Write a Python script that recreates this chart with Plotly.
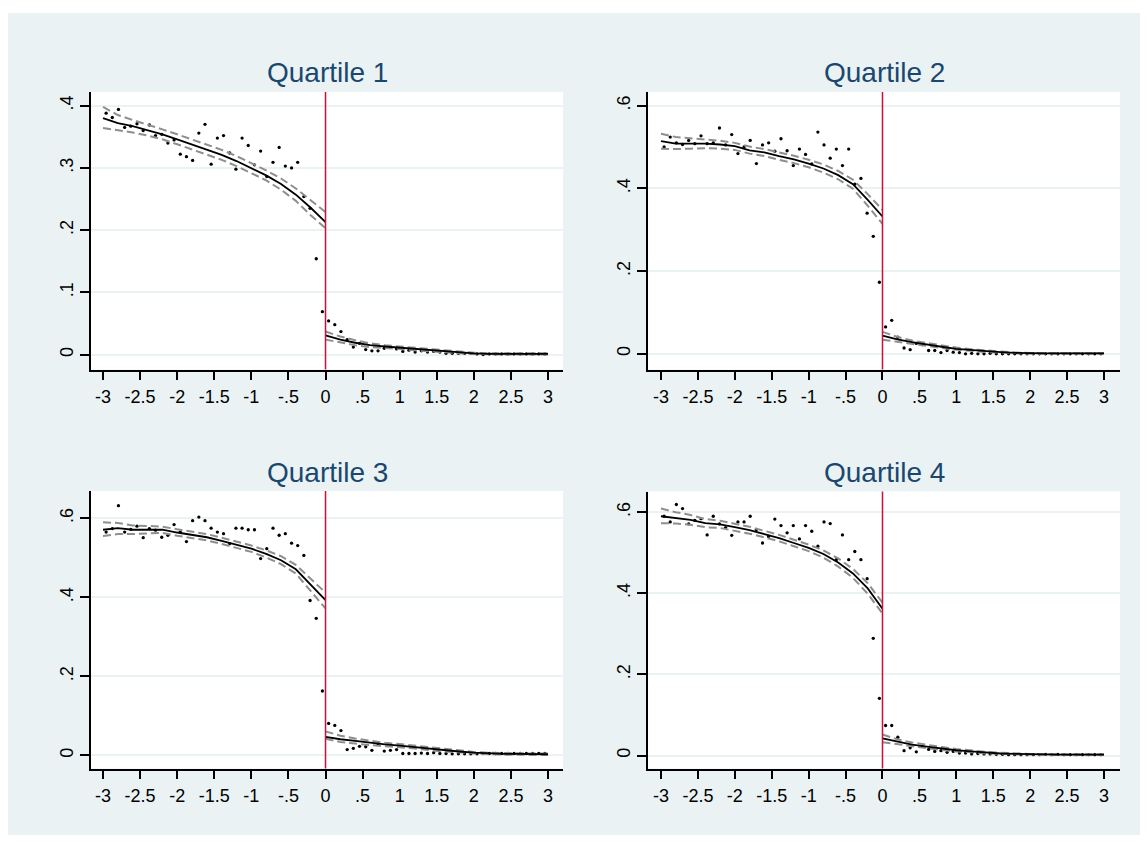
import plotly.graph_objects as go

# ---------------- data ----------------
BIN_L = [-2.958, -2.875, -2.792, -2.708, -2.625, -2.542, -2.458, -2.375, -2.292, -2.208, -2.125, -2.042,
         -1.958, -1.875, -1.792, -1.708, -1.625, -1.542, -1.458, -1.375, -1.292, -1.208, -1.125, -1.042,
         -0.958, -0.875, -0.792, -0.708, -0.625, -0.542, -0.458, -0.375, -0.292, -0.208, -0.125, -0.042]
BIN_R = [0.042, 0.125, 0.208, 0.292, 0.375, 0.458, 0.542, 0.625, 0.708, 0.792, 0.875, 0.958,
         1.042, 1.125, 1.208, 1.292, 1.375, 1.458, 1.542, 1.625, 1.708, 1.792, 1.875, 1.958,
         2.042, 2.125, 2.208, 2.292, 2.375, 2.458, 2.542, 2.625, 2.708, 2.792, 2.875, 2.958]
FIT_L = [-3.0, -2.8, -2.6, -2.4, -2.2, -2.0, -1.8, -1.6, -1.4, -1.2, -1.0, -0.8, -0.6, -0.4, -0.2, 0.0]
FIT_R = [0.0, 0.2, 0.4, 0.6, 0.8, 1.0, 1.2, 1.4, 1.6, 1.8, 2.0, 2.2, 2.4, 2.6, 2.8, 3.0]

TITLES = ["Quartile 1", "Quartile 2", "Quartile 3", "Quartile 4"]

# Quartile 1
q1_pts_l = [0.388, 0.381, 0.394, 0.365, 0.367, 0.371, 0.360, 0.369, 0.352, 0.354, 0.340, 0.345,
            0.322, 0.318, 0.312, 0.356, 0.370, 0.306, 0.348, 0.352, 0.324, 0.298, 0.348, 0.336,
            0.305, 0.327, 0.286, 0.309, 0.333, 0.303, 0.300, 0.309, 0.254, 0.235, 0.154, 0.069]
q1_pts_r = [0.054, 0.048, 0.037, 0.024, 0.012, 0.018, 0.008, 0.006, 0.006, 0.010, 0.012, 0.009,
            0.005, 0.007, 0.004, 0.006, 0.004, 0.005, 0.004, 0.002, 0.002, 0.002, 0.002, 0.002,
            0.001, 0.000, 0.001, 0.001, 0.001, 0.001, 0.001, 0.001, 0.001, 0.001, 0.001, 0.001]
q1_fit_l = [0.380, 0.372, 0.367, 0.361, 0.354, 0.346, 0.338, 0.330, 0.321, 0.311, 0.300, 0.288, 0.274, 0.257, 0.236, 0.213]
q1_hi_l = [0.398, 0.385, 0.377, 0.370, 0.362, 0.354, 0.346, 0.338, 0.329, 0.319, 0.308, 0.296, 0.283, 0.267, 0.248, 0.229]
q1_lo_l = [0.364, 0.361, 0.357, 0.352, 0.346, 0.338, 0.330, 0.322, 0.313, 0.303, 0.292, 0.280, 0.265, 0.247, 0.224, 0.203]
q1_fit_r = [0.031, 0.024, 0.019, 0.015, 0.013, 0.011, 0.009, 0.007, 0.005, 0.003, 0.002, 0.001, 0.001, 0.001, 0.001, 0.001]
q1_hi_r = [0.037, 0.029, 0.023, 0.018, 0.015, 0.013, 0.011, 0.009, 0.006, 0.004, 0.003, 0.002, 0.002, 0.002, 0.002, 0.002]
q1_lo_r = [0.024, 0.019, 0.015, 0.012, 0.011, 0.009, 0.007, 0.005, 0.004, 0.002, 0.001, 0.000, 0.000, 0.000, 0.000, 0.000]

# Quartile 2
q2_pts_l = [0.500, 0.524, 0.510, 0.506, 0.516, 0.508, 0.527, 0.508, 0.510, 0.546, 0.505, 0.530,
            0.484, 0.500, 0.516, 0.460, 0.505, 0.510, 0.490, 0.520, 0.491, 0.455, 0.495, 0.482,
            0.459, 0.536, 0.505, 0.473, 0.495, 0.455, 0.495, 0.410, 0.424, 0.340, 0.284, 0.173]
q2_pts_r = [0.065, 0.081, 0.040, 0.014, 0.010, 0.025, 0.022, 0.008, 0.008, 0.003, 0.008, 0.004,
            0.003, 0.000, 0.001, 0.000, 0.000, 0.001, 0.000, 0.000, 0.000, 0.000, 0.000, 0.000,
            0.000, 0.000, 0.000, 0.000, 0.000, 0.000, 0.000, 0.000, 0.000, 0.000, 0.000, 0.000]
q2_fit_l = [0.514, 0.508, 0.508, 0.508, 0.506, 0.502, 0.492, 0.487, 0.478, 0.470, 0.460, 0.448, 0.432, 0.410, 0.372, 0.332]
q2_hi_l = [0.532, 0.524, 0.521, 0.518, 0.515, 0.510, 0.501, 0.495, 0.487, 0.479, 0.469, 0.458, 0.442, 0.421, 0.386, 0.348]
q2_lo_l = [0.496, 0.495, 0.496, 0.497, 0.496, 0.493, 0.484, 0.478, 0.469, 0.461, 0.451, 0.438, 0.422, 0.399, 0.358, 0.314]
q2_fit_r = [0.044, 0.035, 0.028, 0.022, 0.017, 0.012, 0.009, 0.006, 0.004, 0.002, 0.001, 0.001, 0.001, 0.001, 0.001, 0.001]
q2_hi_r = [0.053, 0.041, 0.032, 0.026, 0.020, 0.015, 0.011, 0.008, 0.005, 0.003, 0.002, 0.002, 0.002, 0.002, 0.002, 0.002]
q2_lo_r = [0.034, 0.029, 0.024, 0.018, 0.014, 0.010, 0.007, 0.004, 0.003, 0.001, 0.000, 0.000, 0.000, 0.000, 0.000, 0.000]

# Quartile 3
q3_pts_l = [0.565, 0.574, 0.632, 0.565, 0.572, 0.580, 0.551, 0.574, 0.570, 0.552, 0.557, 0.584,
            0.565, 0.541, 0.594, 0.603, 0.594, 0.575, 0.565, 0.561, 0.536, 0.575, 0.575, 0.571,
            0.571, 0.498, 0.523, 0.575, 0.557, 0.561, 0.537, 0.531, 0.506, 0.392, 0.347, 0.163]
q3_pts_r = [0.081, 0.076, 0.063, 0.015, 0.018, 0.023, 0.022, 0.013, 0.029, 0.011, 0.013, 0.015,
            0.005, 0.005, 0.005, 0.006, 0.005, 0.007, 0.005, 0.005, 0.004, 0.004, 0.004, 0.004,
            0.004, 0.005, 0.005, 0.005, 0.005, 0.005, 0.005, 0.005, 0.005, 0.005, 0.005, 0.005]
q3_fit_l = [0.571, 0.575, 0.571, 0.571, 0.571, 0.564, 0.558, 0.552, 0.543, 0.533, 0.523, 0.510, 0.494, 0.471, 0.432, 0.393]
q3_hi_l = [0.590, 0.588, 0.582, 0.580, 0.579, 0.572, 0.566, 0.560, 0.551, 0.541, 0.531, 0.519, 0.504, 0.482, 0.447, 0.412]
q3_lo_l = [0.555, 0.560, 0.560, 0.561, 0.563, 0.556, 0.550, 0.544, 0.535, 0.525, 0.515, 0.501, 0.484, 0.460, 0.417, 0.372]
q3_fit_r = [0.047, 0.041, 0.037, 0.032, 0.028, 0.025, 0.021, 0.017, 0.013, 0.010, 0.007, 0.005, 0.004, 0.004, 0.003, 0.003]
q3_hi_r = [0.061, 0.050, 0.043, 0.037, 0.032, 0.029, 0.025, 0.020, 0.016, 0.012, 0.009, 0.007, 0.006, 0.005, 0.005, 0.005]
q3_lo_r = [0.042, 0.034, 0.030, 0.026, 0.023, 0.021, 0.017, 0.014, 0.010, 0.008, 0.005, 0.003, 0.002, 0.002, 0.001, 0.001]

# Quartile 4
q4_pts_l = [0.590, 0.576, 0.619, 0.609, 0.571, 0.580, 0.584, 0.544, 0.590, 0.571, 0.562, 0.543,
            0.576, 0.576, 0.590, 0.557, 0.524, 0.540, 0.583, 0.567, 0.549, 0.567, 0.534, 0.567,
            0.553, 0.516, 0.576, 0.572, 0.483, 0.544, 0.483, 0.503, 0.483, 0.436, 0.289, 0.141]
q4_pts_r = [0.074, 0.074, 0.045, 0.012, 0.019, 0.009, 0.022, 0.015, 0.010, 0.012, 0.008, 0.010,
            0.006, 0.006, 0.004, 0.005, 0.004, 0.004, 0.003, 0.003, 0.002, 0.002, 0.002, 0.002,
            0.002, 0.002, 0.003, 0.002, 0.003, 0.002, 0.002, 0.002, 0.002, 0.002, 0.002, 0.002]
q4_fit_l = [0.590, 0.585, 0.581, 0.573, 0.570, 0.563, 0.556, 0.546, 0.536, 0.524, 0.512, 0.497, 0.476, 0.449, 0.412, 0.362]
q4_hi_l = [0.609, 0.600, 0.593, 0.583, 0.579, 0.572, 0.564, 0.554, 0.544, 0.532, 0.520, 0.506, 0.486, 0.460, 0.425, 0.377]
q4_lo_l = [0.573, 0.572, 0.569, 0.563, 0.561, 0.554, 0.547, 0.538, 0.528, 0.516, 0.504, 0.488, 0.466, 0.438, 0.399, 0.350]
q4_fit_r = [0.042, 0.034, 0.027, 0.022, 0.017, 0.013, 0.010, 0.007, 0.005, 0.004, 0.003, 0.002, 0.002, 0.002, 0.002, 0.002]
q4_hi_r = [0.052, 0.040, 0.032, 0.026, 0.021, 0.016, 0.012, 0.009, 0.007, 0.005, 0.004, 0.003, 0.003, 0.003, 0.003, 0.003]
q4_lo_r = [0.033, 0.028, 0.022, 0.018, 0.014, 0.010, 0.008, 0.005, 0.004, 0.003, 0.002, 0.001, 0.001, 0.001, 0.001, 0.001]

X_TICKS = [-3, -2.5, -2, -1.5, -1, -0.5, 0, 0.5, 1, 1.5, 2, 2.5, 3]
X_TICKTEXT = ["-3", "-2.5", "-2", "-1.5", "-1", "-.5", "0", ".5", "1", "1.5", "2", "2.5", "3"]
Y_TICKS_Q1 = [0, 0.1, 0.2, 0.3, 0.4]
Y_TICKTEXT_Q1 = ["0", ".1", ".2", ".3", ".4"]
Y_TICKS = [0, 0.2, 0.4, 0.6]
Y_TICKTEXT = ["0", ".2", ".4", ".6"]

panels = [
    (q1_pts_l, q1_pts_r, q1_fit_l, q1_hi_l, q1_lo_l, q1_fit_r, q1_hi_r, q1_lo_r),
    (q2_pts_l, q2_pts_r, q2_fit_l, q2_hi_l, q2_lo_l, q2_fit_r, q2_hi_r, q2_lo_r),
    (q3_pts_l, q3_pts_r, q3_fit_l, q3_hi_l, q3_lo_l, q3_fit_r, q3_hi_r, q3_lo_r),
    (q4_pts_l, q4_pts_r, q4_fit_l, q4_hi_l, q4_lo_l, q4_fit_r, q4_hi_r, q4_lo_r),
]

# ---------------- layout geometry (pixels) ----------------
W, H = 1147, 842
# (left, right, top, bottom) of each plot region in pixels
boxes = [(91, 563, 92, 369.5), (648, 1120, 92, 369.5), (91, 563, 491, 768.5), (648, 1120, 491.5, 768.5)]
x_ranges = [[-3.162, 3.202], [-3.176, 3.217], [-3.162, 3.202], [-3.176, 3.217]]
y_ranges = [[-0.024, 0.422], [-0.038, 0.633], [-0.033, 0.669], [-0.032, 0.651]]

BG = "#EAF2F3"
FONT = "Liberation Sans, Arial, sans-serif"
fig = go.Figure()

for i, p in enumerate(panels):
    pts_l, pts_r, fit_l, hi_l, lo_l, fit_r, hi_r, lo_r = p
    xa = "x" if i == 0 else f"x{i+1}"
    ya = "y" if i == 0 else f"y{i+1}"
    common = dict(xaxis=xa, yaxis=ya, showlegend=False, hoverinfo="skip")
    fig.add_trace(go.Scatter(x=BIN_L + BIN_R, y=pts_l + pts_r, mode="markers",
                             marker=dict(color="black", size=3.3), **common))
    for xs, ys in [(FIT_L, hi_l), (FIT_L, lo_l), (FIT_R, hi_r), (FIT_R, lo_r)]:
        fig.add_trace(go.Scatter(x=xs, y=ys, mode="lines",
                                 line=dict(color="#8E8E8E", width=2, dash="8px,4px"), **common))
    for xs, ys in [(FIT_L, fit_l), (FIT_R, fit_r)]:
        fig.add_trace(go.Scatter(x=xs, y=ys, mode="lines",
                                 line=dict(color="black", width=1.8), **common))

layout = dict(width=W, height=H, autosize=False, margin=dict(l=0, r=0, t=0, b=0),
              paper_bgcolor=BG, plot_bgcolor="white", font=dict(family=FONT, color="black"))
shapes = []
annotations = []
for i, (l, r, t, b) in enumerate(boxes):
    kx = "xaxis" if i == 0 else f"xaxis{i+1}"
    ky = "yaxis" if i == 0 else f"yaxis{i+1}"
    xa = "x" if i == 0 else f"x{i+1}"
    ya = "y" if i == 0 else f"y{i+1}"
    layout[kx] = dict(domain=[l / W, r / W], range=x_ranges[i], anchor=ya,
                      tickvals=X_TICKS, ticktext=X_TICKTEXT, showgrid=False, zeroline=False,
                      showline=True, linecolor="black", linewidth=1.6,
                      ticks="outside", ticklen=9, tickwidth=1.5, tickcolor="black",
                      tickfont=dict(size=18, family=FONT, color="black"), ticklabelstandoff=1)
    layout[ky] = dict(domain=[1 - b / H, 1 - t / H], range=y_ranges[i], anchor=xa,
                      tickvals=Y_TICKS_Q1 if i == 0 else Y_TICKS,
                      ticktext=Y_TICKTEXT_Q1 if i == 0 else Y_TICKTEXT,
                      showgrid=True, gridcolor=BG, gridwidth=2, zeroline=False,
                      showline=True, linecolor="black", linewidth=1.6,
                      ticks="outside", ticklen=9, tickwidth=1.5, tickcolor="black", tickangle=-90,
                      tickfont=dict(size=18, family=FONT, color="black"))
    shapes.append(dict(type="line", xref=xa, yref=f"{ya} domain", x0=0, x1=0, y0=0, y1=1,
                       line=dict(color="#C8103C", width=1.5), layer="above"))
    annotations.append(dict(text=TITLES[i], xref="paper", yref="paper", x=(l + r) / 2 / W,
                            y=1 - (t - 19) / H, xanchor="center", yanchor="middle", showarrow=False,
                            font=dict(size=28, family=FONT, color="#1A476F")))

# white frame around the coloured graph region
for x0, x1, y0, y1 in [(0, 8, 0, H), (1140, W, 0, H), (0, W, 0, 13), (0, W, 835, H)]:
    shapes.append(dict(type="rect", xref="paper", yref="paper", x0=x0 / W, x1=x1 / W,
                       y0=1 - y1 / H, y1=1 - y0 / H, fillcolor="white", line=dict(width=0),
                       layer="below"))

layout["shapes"] = shapes
layout["annotations"] = annotations
fig.update_layout(**layout)
fig.write_html("out.html", config={"displayModeBar": False},
               post_script="document.body.style.margin='0';document.body.style.padding='0';")
